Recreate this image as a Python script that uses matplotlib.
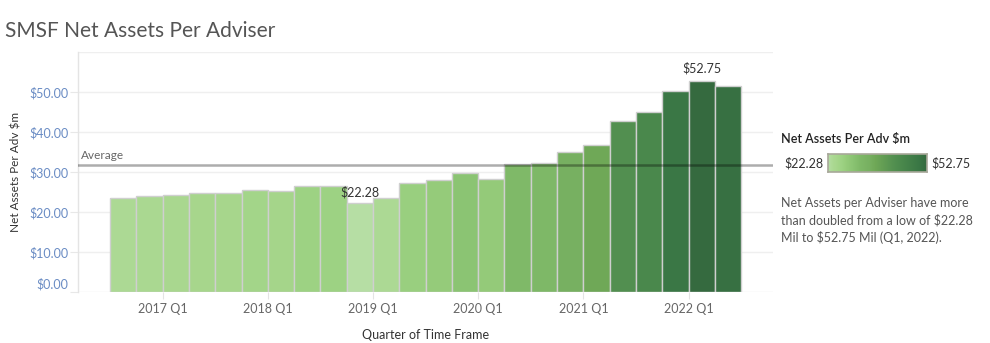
import matplotlib
matplotlib.use('Agg')
import matplotlib.pyplot as plt
import numpy as np
from matplotlib.colors import LinearSegmentedColormap, Normalize
import matplotlib.transforms as mtransforms

plt.rcParams['font.family'] = ['Lato', 'DejaVu Sans']

# ---- data ----
quarters = ['2016 Q3', '2016 Q4', '2017 Q1', '2017 Q2', '2017 Q3', '2017 Q4',
            '2018 Q1', '2018 Q2', '2018 Q3', '2018 Q4', '2019 Q1', '2019 Q2',
            '2019 Q3', '2019 Q4', '2020 Q1', '2020 Q2', '2020 Q3', '2020 Q4',
            '2021 Q1', '2021 Q2', '2021 Q3', '2021 Q4', '2022 Q1', '2022 Q2']
values = [23.60, 24.10, 24.35, 24.85, 24.85, 25.60,
          25.35, 26.60, 26.60, 22.28, 23.60, 27.35,
          28.10, 29.85, 28.35, 32.10, 32.35, 35.10,
          36.80, 42.75, 45.10, 50.35, 52.75, 51.60]
tick_labels = ['2017 Q1', '2018 Q1', '2019 Q1', '2020 Q1', '2021 Q1', '2022 Q1']
y_ticks = [0, 10, 20, 30, 40, 50]
y_tick_labels = ['$0.00', '$10.00', '$20.00', '$30.00', '$40.00', '$50.00']

W, H = 990, 343
fig = plt.figure(figsize=(W / 100, H / 100), dpi=100)
fig.patch.set_facecolor('white')

def fx(px):
    return px / W

def fy(py):
    return 1 - py / H

ax = fig.add_axes([fx(78), fy(292), fx(773) - fx(78), fy(52) - fy(292)])

vmin, vmax = min(values), max(values)
stops = [(0.0, '#b6dea4'), (0.043, '#acd994'), (0.09, '#a6d68b'), (0.142, '#9dd283'),
         (0.19, '#95cb7a'), (0.248, '#8bc473'), (0.322, '#7fb968'), (0.42, '#77b061'),
         (0.477, '#6fa857'), (0.672, '#528f50'), (0.749, '#4a884c'), (0.921, '#3a7745'),
         (1.0, '#356a3f')]
cmap = LinearSegmentedColormap.from_list('tabgreen', stops)
norm = Normalize(vmin=vmin, vmax=vmax)

x = np.arange(len(quarters))
ax.bar(x, values, width=1.0, align='edge', color=cmap(norm(np.array(values))),
       edgecolor='#cfcfcf', linewidth=1.0, zorder=3)

ax.set_xlim(-1.217, 25.21)
ax.set_ylim(0, 60)

# grid
ax.set_yticks(y_ticks)
ax.set_yticklabels(y_tick_labels)
for yv in y_ticks + [60]:
    ax.axhline(yv, color='#efefef', lw=1, zorder=1)

for s in ['top', 'right', 'bottom']:
    ax.spines[s].set_visible(False)
ax.spines['left'].set_color('#e4e4e4')
ax.spines['left'].set_linewidth(1)

ax.tick_params(axis='y', length=6, color='#e8e8e8', labelsize=9, labelcolor='#6a8cc4', pad=1)
for lab in ax.get_yticklabels():
    if lab.get_text() == '$0.00':
        lab.set_transform(lab.get_transform() + mtransforms.ScaledTranslation(0, 9 / 100, fig.dpi_scale_trans))

tick_pos = [quarters.index(t) for t in tick_labels]
ax.set_xticks(tick_pos)
ax.set_xticklabels(tick_labels)
ax.tick_params(axis='x', length=5, color='#e4e4e4', labelsize=9, labelcolor='#666666', pad=3)

# average line
avg = float(np.mean(values))
ax.axhline(avg, color='black', alpha=0.32, lw=1.8, zorder=4)
ax.text(0.004, avg + 0.8, 'Average', transform=ax.get_yaxis_transform(), fontsize=8.5,
        color='#666666', ha='left', va='bottom', zorder=5)

# min / max labels
imin = int(np.argmin(values))
imax = int(np.argmax(values))
ax.text(imin + 0.5, values[imin] + 1.2, '${:.2f}'.format(values[imin]), ha='center', va='bottom',
        fontsize=9, color='#333333', zorder=6)
ax.text(imax + 0.5, values[imax] + 1.6, '${:.2f}'.format(values[imax]), ha='center', va='bottom',
        fontsize=9, color='#333333', zorder=6)

# axis titles
fig.text(fx(16), fy(172), 'Net Assets Per Adv $m', fontsize=8.5, color='#333333',
         rotation=90, ha='center', va='center')
fig.text(fx(426), fy(335), 'Quarter of Time Frame', fontsize=9, color='#333333',
         ha='center', va='center')

# title
fig.text(fx(5), fy(37), 'SMSF Net Assets Per Adviser', fontsize=15, color='#555555',
         ha='left', va='baseline')

# legend
fig.text(fx(781), fy(139), 'Net Assets Per Adv $m', fontsize=9, color='#222222',
         ha='left', va='center', fontweight='semibold')
cax = fig.add_axes([fx(828), fy(172), fx(927) - fx(828), fy(154) - fy(172)])
grad = np.linspace(0, 1, 256).reshape(1, -1)
cax.imshow(grad, aspect='auto', cmap=cmap, extent=[0, 1, 0, 1])
cax.set_xticks([])
cax.set_yticks([])
for s in cax.spines.values():
    s.set_color('#a8a89a')
    s.set_linewidth(1.2)
fig.text(fx(824), fy(163), '${:.2f}'.format(vmin), fontsize=9, color='#333333', ha='right', va='center')
fig.text(fx(931), fy(163), '${:.2f}'.format(vmax), fontsize=9, color='#333333', ha='left', va='center')

note = ('Net Assets per Adviser have more\n'
        'than doubled from a low of ${:.2f}\n'
        'Mil to ${:.2f} Mil (Q1, 2022).').format(vmin, vmax)
fig.text(fx(781), fy(197), note, fontsize=9, color='#555555', ha='left', va='top', linespacing=1.45)

fig.savefig('out.png', dpi=100, facecolor='white')
